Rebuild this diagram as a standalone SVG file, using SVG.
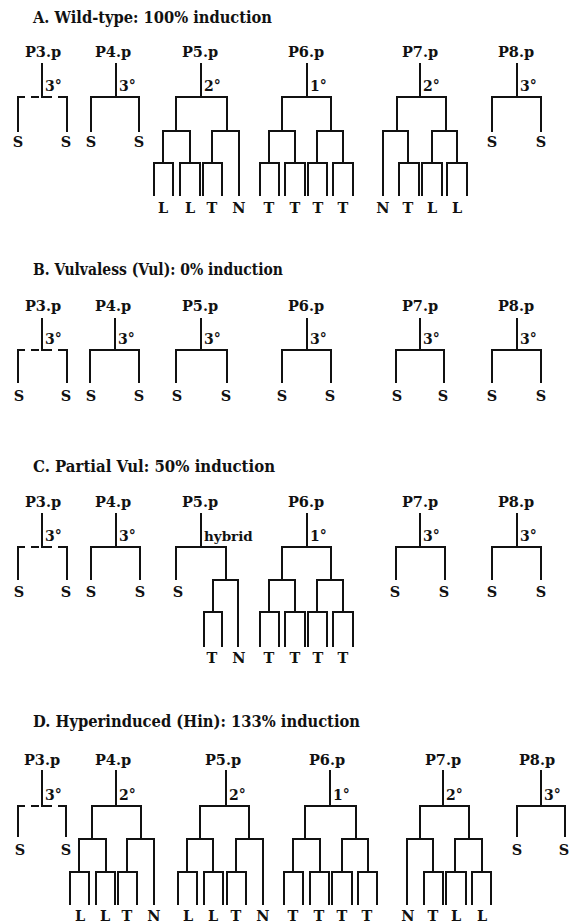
<svg xmlns="http://www.w3.org/2000/svg" width="570" height="924" viewBox="0 0 570 924">
<style>
text{font-family:"DejaVu Serif","Liberation Serif",serif;fill:#111}
.title{font-size:16px;font-weight:bold}
.pl{font-size:14.5px;font-weight:bold;text-anchor:middle}
.deg{font-size:14px;font-weight:bold}
.hy{font-size:13.5px;font-weight:bold}
.lf{font-size:14.5px;font-weight:bold;text-anchor:middle}
.ln{fill:none;stroke:#111;stroke-width:2;stroke-linejoin:miter;stroke-linecap:butt}
</style>
<rect width="570" height="924" fill="#fff"/>

<!-- Panel A -->
<g id="panelA">
<text class="title" x="33" y="23" textLength="239" lengthAdjust="spacingAndGlyphs">A. Wild-type: 100% induction</text>
<g id="A-P3">
<text class="pl" x="43" y="57">P3.p</text>
<path class="ln" d="M42 63 V97 M18 132 V97 H25 M31 97 H39 M41 97 H52 M58 97 H67 V132"/>
<text class="deg" x="45" y="91">3°</text>
<text class="lf" x="18" y="147">S</text><text class="lf" x="66" y="147">S</text>
</g>
<g id="A-P4">
<text class="pl" x="113" y="57">P4.p</text>
<path class="ln" d="M116 63 V97 M91 132 V97 H139 V132"/>
<text class="deg" x="119" y="91">3°</text>
<text class="lf" x="91" y="147">S</text><text class="lf" x="139" y="147">S</text>
</g>
<g id="A-P5">
<text class="pl" x="200" y="57">P5.p</text>
<path class="ln" d="M201 63 V97 M176 131 V97 H227 V131 M163 163 V131 H190 V163 M212 163 V131 H239 V196 M154 196 V163 H173 V196 M180 196 V163 H200 V196 M203 196 V163 H222 V196"/>
<text class="deg" x="204" y="91">2°</text>
<text class="lf" x="163" y="213">L</text><text class="lf" x="190" y="213">L</text><text class="lf" x="212" y="213">T</text><text class="lf" x="239" y="213">N</text>
</g>
<g id="A-P6">
<text class="pl" x="306" y="57">P6.p</text>
<path class="ln" d="M307 63 V97 M282 131 V97 H331 V131 M269 163 V131 H295 V163 M317 163 V131 H343 V163 M260 196 V163 H279 V196 M285 196 V163 H305 V196 M308 196 V163 H327 V196 M333 196 V163 H353 V196"/>
<text class="deg" x="310" y="91">1°</text>
<text class="lf" x="269" y="213">T</text><text class="lf" x="295" y="213">T</text><text class="lf" x="318" y="213">T</text><text class="lf" x="343" y="213">T</text>
</g>
<g id="A-P7">
<text class="pl" x="420" y="57">P7.p</text>
<path class="ln" d="M420 63 V97 M397 131 V97 H446 V131 M383 196 V131 H408 V163 M432 163 V131 H457 V163 M399 196 V163 H419 V196 M422 196 V163 H442 V196 M447 196 V163 H467 V196"/>
<text class="deg" x="423" y="91">2°</text>
<text class="lf" x="383" y="213">N</text><text class="lf" x="408" y="213">T</text><text class="lf" x="432" y="213">L</text><text class="lf" x="457" y="213">L</text>
</g>
<g id="A-P8">
<text class="pl" x="516" y="57">P8.p</text>
<path class="ln" d="M517 63 V97 M492 132 V97 H541 V132"/>
<text class="deg" x="520" y="91">3°</text>
<text class="lf" x="492" y="147">S</text><text class="lf" x="541" y="147">S</text>
</g>
</g>

<!-- Panel B -->
<g id="panelB">
<text class="title" x="33" y="275" textLength="250" lengthAdjust="spacingAndGlyphs">B. Vulvaless (Vul): 0% induction</text>
<g id="B-P3">
<text class="pl" x="43" y="311">P3.p</text>
<path class="ln" d="M42 318 V350 M18 383 V350 H25 M31 350 H39 M41 350 H52 M58 350 H67 V383"/>
<text class="deg" x="45" y="344">3°</text>
<text class="lf" x="19" y="401">S</text><text class="lf" x="66" y="401">S</text>
</g>
<g id="B-P4">
<text class="pl" x="113" y="311">P4.p</text>
<path class="ln" d="M115 318 V350 M90 383 V350 H139 V383"/>
<text class="deg" x="118" y="344">3°</text>
<text class="lf" x="91" y="401">S</text><text class="lf" x="139" y="401">S</text>
</g>
<g id="B-P5">
<text class="pl" x="200" y="311">P5.p</text>
<path class="ln" d="M201 318 V350 M176 383 V350 H227 V383"/>
<text class="deg" x="204" y="344">3°</text>
<text class="lf" x="177" y="401">S</text><text class="lf" x="226" y="401">S</text>
</g>
<g id="B-P6">
<text class="pl" x="306" y="311">P6.p</text>
<path class="ln" d="M307 318 V350 M282 383 V350 H331 V383"/>
<text class="deg" x="310" y="344">3°</text>
<text class="lf" x="282" y="401">S</text><text class="lf" x="330" y="401">S</text>
</g>
<g id="B-P7">
<text class="pl" x="420" y="311">P7.p</text>
<path class="ln" d="M420 318 V350 M396 383 V350 H444 V383"/>
<text class="deg" x="423" y="344">3°</text>
<text class="lf" x="397" y="401">S</text><text class="lf" x="443" y="401">S</text>
</g>
<g id="B-P8">
<text class="pl" x="516" y="311">P8.p</text>
<path class="ln" d="M517 318 V350 M492 383 V350 H541 V383"/>
<text class="deg" x="520" y="344">3°</text>
<text class="lf" x="492" y="401">S</text><text class="lf" x="541" y="401">S</text>
</g>
</g>

<!-- Panel C -->
<g id="panelC">
<text class="title" x="33" y="472" textLength="242" lengthAdjust="spacingAndGlyphs">C. Partial Vul: 50% induction</text>
<g id="C-P3">
<text class="pl" x="43" y="507">P3.p</text>
<path class="ln" d="M42 513 V547 M18 580 V547 H25 M31 547 H39 M41 547 H52 M58 547 H67 V580"/>
<text class="deg" x="45" y="541">3°</text>
<text class="lf" x="19" y="597">S</text><text class="lf" x="66" y="597">S</text>
</g>
<g id="C-P4">
<text class="pl" x="113" y="507">P4.p</text>
<path class="ln" d="M116 513 V547 M91 580 V547 H140 V580"/>
<text class="deg" x="119" y="541">3°</text>
<text class="lf" x="91" y="597">S</text><text class="lf" x="140" y="597">S</text>
</g>
<g id="C-P5">
<text class="pl" x="200" y="507">P5.p</text>
<path class="ln" d="M201 513 V547 M176 580 V547 H226 V580 M213 612 V580 H238 V647 M204 647 V612 H222 V647"/>
<text class="hy" x="204" y="541">hybrid</text>
<text class="lf" x="178" y="597">S</text>
<text class="lf" x="212" y="663">T</text><text class="lf" x="239" y="663">N</text>
</g>
<g id="C-P6">
<text class="pl" x="306" y="507">P6.p</text>
<path class="ln" d="M307 513 V547 M282 580 V547 H331 V580 M269 612 V580 H295 V612 M317 612 V580 H343 V612 M260 647 V612 H279 V647 M285 647 V612 H305 V647 M308 647 V612 H327 V647 M333 647 V612 H353 V647"/>
<text class="deg" x="310" y="541">1°</text>
<text class="lf" x="269" y="663">T</text><text class="lf" x="295" y="663">T</text><text class="lf" x="318" y="663">T</text><text class="lf" x="343" y="663">T</text>
</g>
<g id="C-P7">
<text class="pl" x="420" y="507">P7.p</text>
<path class="ln" d="M420 513 V547 M396 580 V547 H445 V580"/>
<text class="deg" x="423" y="541">3°</text>
<text class="lf" x="395" y="597">S</text><text class="lf" x="444" y="597">S</text>
</g>
<g id="C-P8">
<text class="pl" x="516" y="507">P8.p</text>
<path class="ln" d="M517 513 V547 M492 580 V547 H541 V580"/>
<text class="deg" x="520" y="541">3°</text>
<text class="lf" x="492" y="597">S</text><text class="lf" x="541" y="597">S</text>
</g>
</g>

<!-- Panel D -->
<g id="panelD">
<text class="title" x="33" y="727" textLength="327" lengthAdjust="spacingAndGlyphs">D. Hyperinduced (Hin): 133% induction</text>
<g id="D-P3">
<text class="pl" x="42" y="765">P3.p</text>
<path class="ln" d="M42 770 V806 M18 837 V806 H25 M31 806 H39 M41 806 H52 M58 806 H66 V837"/>
<text class="deg" x="45" y="800">3°</text>
<text class="lf" x="20" y="855">S</text><text class="lf" x="66" y="855">S</text>
</g>
<g id="D-P4">
<text class="pl" x="113" y="765">P4.p</text>
<path class="ln" d="M116 770 V806 M92 839 V806 H141 V839 M79 872 V839 H106 V872 M127 872 V839 H154 V905 M70 905 V872 H89 V905 M96 905 V872 H115 V905 M118 905 V872 H137 V905"/>
<text class="deg" x="119" y="800">2°</text>
<text class="lf" x="80" y="921">L</text><text class="lf" x="105" y="921">L</text><text class="lf" x="127" y="921">T</text><text class="lf" x="154" y="921">N</text>
</g>
<g id="D-P5">
<text class="pl" x="223" y="765">P5.p</text>
<path class="ln" d="M226 770 V806 M200 839 V806 H249 V839 M187 872 V839 H213 V872 M236 872 V839 H263 V905 M178 905 V872 H197 V905 M204 905 V872 H223 V905 M227 905 V872 H246 V905"/>
<text class="deg" x="229" y="800">2°</text>
<text class="lf" x="188" y="921">L</text><text class="lf" x="213" y="921">L</text><text class="lf" x="236" y="921">T</text><text class="lf" x="263" y="921">N</text>
</g>
<g id="D-P6">
<text class="pl" x="327" y="765">P6.p</text>
<path class="ln" d="M330 770 V806 M305 839 V806 H356 V839 M293 872 V839 H320 V872 M342 872 V839 H368 V872 M284 905 V872 H303 V905 M310 905 V872 H329 V905 M332 905 V872 H352 V905 M358 905 V872 H377 V905"/>
<text class="deg" x="333" y="800">1°</text>
<text class="lf" x="293" y="921">T</text><text class="lf" x="319" y="921">T</text><text class="lf" x="342" y="921">T</text><text class="lf" x="367" y="921">T</text>
</g>
<g id="D-P7">
<text class="pl" x="443" y="765">P7.p</text>
<path class="ln" d="M443 770 V806 M420 839 V806 H469 V839 M407 905 V839 H433 V872 M455 872 V839 H482 V872 M424 905 V872 H443 V905 M446 905 V872 H466 V905 M472 905 V872 H491 V905"/>
<text class="deg" x="446" y="800">2°</text>
<text class="lf" x="408" y="921">N</text><text class="lf" x="433" y="921">T</text><text class="lf" x="456" y="921">L</text><text class="lf" x="482" y="921">L</text>
</g>
<g id="D-P8">
<text class="pl" x="537" y="765">P8.p</text>
<path class="ln" d="M541 770 V806 M517 837 V806 H565 V837"/>
<text class="deg" x="544" y="800">3°</text>
<text class="lf" x="517" y="855">S</text><text class="lf" x="564" y="855">S</text>
</g>
</g>
</svg>
